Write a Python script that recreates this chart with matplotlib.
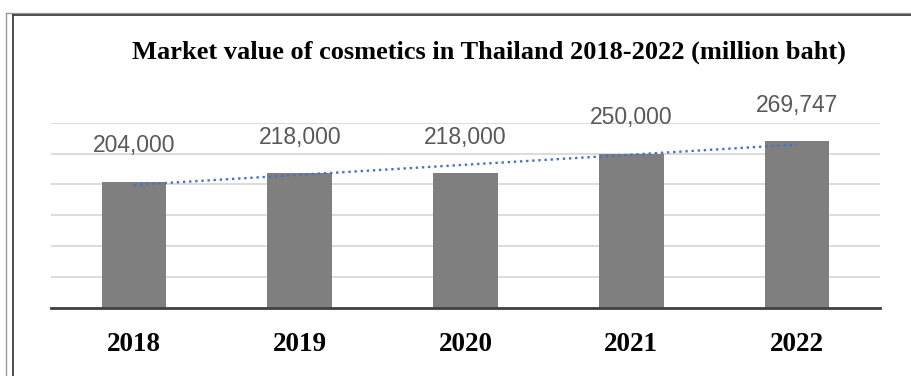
import numpy as np
import matplotlib
matplotlib.use('Agg')
import matplotlib.pyplot as plt
from matplotlib.lines import Line2D

######################  DATA  ######################

years = ['2018', '2019', '2020', '2021', '2022']
marketValue = [204000, 218000, 218000, 250000, 269747]
valueLabels = ['204,000', '218,000', '218,000', '250,000', '269,747']
chartTitle = 'Market value of cosmetics in Thailand 2018-2022 (million baht)'

######################  FIGURE  ######################

W, H = 912, 376
fig = plt.figure(figsize=(W / 100, H / 100), dpi=100)
fig.patch.set_facecolor('white')

# frame around the pasted chart (double line, left and top)
fig.add_artist(Line2D([6.5 / W, 6.5 / W], [0, 1 - 12.5 / H], color='#9a9a9a', lw=1.0))
fig.add_artist(Line2D([6.5 / W, 1], [1 - 12.5 / H, 1 - 12.5 / H], color='#9a9a9a', lw=1.0))
fig.add_artist(Line2D([13.5 / W, 13.5 / W], [0, 1 - 14.8 / H], color='#404040', lw=1.3))
fig.add_artist(Line2D([13.5 / W, 1], [1 - 14.8 / H, 1 - 14.8 / H], color='#404040', lw=1.3))

ax = fig.add_axes([51 / W, (H - 308) / H, 829 / W, (308 - 122.7) / H])

x = np.arange(len(years))
ax.bar(x, marketValue, width=0.39, color='#7f7f7f', zorder=2)

# linear trend line
slope, intercept = np.polyfit(x, marketValue, 1)
ax.plot(x[[0, -1]], slope * x[[0, -1]] + intercept, color='#4472c4', lw=1.7,
        linestyle=(0, (1, 1.6)), zorder=3)

for xi, v, lab in zip(x, marketValue, valueLabels):
    ax.annotate(lab, (xi, v), xytext=(0, 26), textcoords='offset points',
                ha='center', va='center', fontsize=16.5, color='#595959',
                family='Liberation Sans', annotation_clip=False)

ax.set_xlim(-0.5, len(years) - 0.5)
ax.set_ylim(0, 300000)
ax.set_yticks(np.arange(0, 300001, 50000))
ax.set_yticklabels([])
ax.grid(axis='y', color='#d9d9d9', lw=1.3, zorder=0)
ax.set_axisbelow(True)

ax.set_xticks(x)
ax.set_xticklabels(years, family='Liberation Serif', fontweight='bold', fontsize=19.5)
ax.tick_params(axis='both', length=0)
ax.tick_params(axis='x', pad=17)

for side in ['top', 'left', 'right']:
    ax.spines[side].set_visible(False)
ax.spines['bottom'].set_color('#404040')
ax.spines['bottom'].set_linewidth(2)

fig.text(489 / W, 1 - 52 / H, chartTitle, ha='center', va='center',
         family='Liberation Serif', fontweight='bold', fontsize=19)

fig.savefig('out.png', dpi=100)
